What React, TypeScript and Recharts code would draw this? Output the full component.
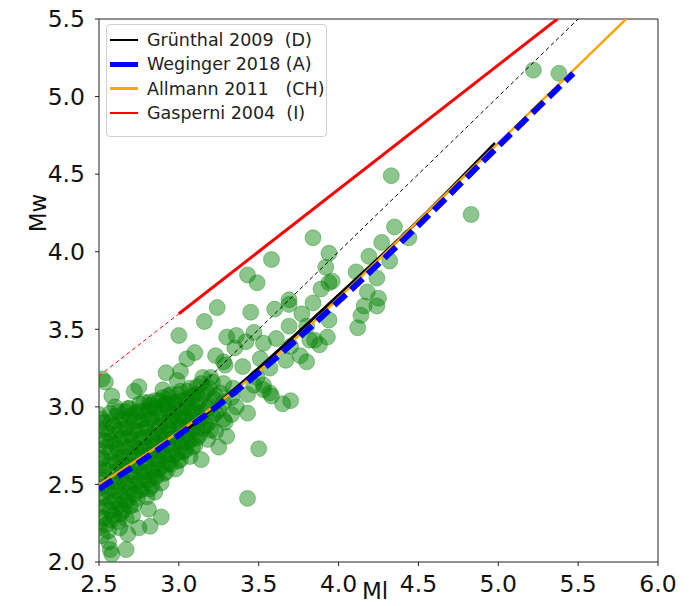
import React from 'react';
import * as R from 'recharts';
import { ComposedChart, Scatter, Line, XAxis, YAxis, ReferenceLine } from 'recharts';

// axis ticks
const xTicks = [2.5, 3.0, 3.5, 4.0, 4.5, 5.0, 5.5, 6.0];
const yTicks = [2.0, 2.5, 3.0, 3.5, 4.0, 4.5, 5.0, 5.5];

// relations (Ml -> Mw)
const oneToOne = [{ x: 2.5, y: 2.5 }, { x: 5.5, y: 5.5 }];
const gasperiniExtrap = [{ x: 2.5, y: 3.2 }, { x: 3.0, y: 3.6 }];
const gasperini = [{ x: 3.0, y: 3.6 }, { x: 5.37, y: 5.5 }];
const gruenthal = [
  { x: 3.0, y: 2.81 }, { x: 3.5, y: 3.25 }, { x: 4.0, y: 3.72 }, { x: 4.5, y: 4.2 }, { x: 4.98, y: 4.7 },
];
const allmann = [
  { x: 2.5, y: 2.5 }, { x: 3.0, y: 2.84 }, { x: 3.5, y: 3.23 }, { x: 4.0, y: 3.7 },
  { x: 4.5, y: 4.2 }, { x: 5.0, y: 4.7 }, { x: 5.5, y: 5.2 }, { x: 5.8, y: 5.5 },
];
const weginger = [
  { x: 2.5, y: 2.47 }, { x: 3.0, y: 2.82 }, { x: 3.5, y: 3.22 }, { x: 4.0, y: 3.68 },
  { x: 4.5, y: 4.17 }, { x: 5.0, y: 4.68 }, { x: 5.47, y: 5.15 },
];

// events [Ml, Mw]
const eventsSparse: number[][] = [
  [5.22, 5.17], [5.38, 5.15], [4.33, 4.49], [4.83, 4.24], [3.84, 4.09], [4.35, 4.16], [4.44, 4.09],
  [4.27, 4.06], [3.94, 3.99], [3.92, 3.9], [4.19, 3.97], [4.32, 3.94], [4.11, 3.87], [4.24, 3.83],
  [3.89, 3.76], [3.94, 3.8], [4.18, 3.74], [4.25, 3.7], [3.84, 3.67], [4.16, 3.65], [4.24, 3.65],
  [4.14, 3.59], [3.94, 3.56], [4.12, 3.51], [3.82, 3.43], [3.88, 3.4], [3.8, 3.52],
  [3.58, 3.95], [3.43, 3.85], [3.49, 3.8], [3.24, 3.64], [3.16, 3.55], [3.45, 3.61], [3.6, 3.63],
  [3.69, 3.69], [3.0, 3.46], [3.96, 3.81], [3.77, 3.6], [3.36, 3.46], [3.3, 3.45], [3.47, 3.48],
  [3.69, 3.52], [3.53, 3.41], [3.61, 3.44], [3.7, 3.39], [3.8, 3.29], [2.52, 3.18], [2.58, 3.07],
  [2.75, 3.13], [2.72, 3.1], [2.6, 3.0], [3.1, 3.35], [3.05, 3.31], [3.23, 3.33], [3.28, 3.29],
  [3.67, 3.3], [3.57, 3.25], [3.4, 3.26], [3.49, 3.19], [3.7, 3.04], [3.65, 3.02], [3.57, 3.09],
  [3.53, 3.14], [2.99, 3.17], [3.01, 3.23], [2.92, 3.22], [2.9, 3.11], [3.69, 3.66], [3.35, 3.38],
  [3.42, 3.42], [3.29, 3.27], [3.51, 3.31], [3.76, 3.33], [3.85, 3.43], [3.93, 3.45], [3.2, 3.19],
  [3.34, 3.12], [3.47, 3.14], [3.53, 3.11], [3.58, 3.07], [3.43, 3.08], [3.43, 2.96], [3.36, 3.0],
  [3.29, 2.9], [3.2, 2.85], [3.3, 2.81], [3.25, 2.74], [3.18, 2.79], [3.5, 2.73], [3.14, 2.66],
  [3.43, 2.41], [2.81, 2.34], [2.89, 2.29], [2.75, 2.22], [2.82, 2.23], [2.68, 2.18], [2.67, 2.08],
  [2.57, 2.08], [2.56, 2.13], [2.52, 2.17], [2.58, 2.05], [2.72, 2.37], [2.67, 2.28], [2.85, 2.45],
  [2.63, 2.22], [2.54, 3.16], [2.68, 2.99], [2.82, 3.01], [2.93, 3.01],
];

const eventsDense: number[][] = [
  [2.5, 2.22], [2.5, 2.35], [2.51, 2.48], [2.5, 2.6], [2.5, 2.72], [2.51, 2.85], [2.5, 2.95],
  [2.53, 2.28], [2.54, 2.42], [2.53, 2.55], [2.52, 2.67], [2.54, 2.78], [2.53, 2.9],
  [2.56, 2.2], [2.57, 2.33], [2.56, 2.46], [2.55, 2.59], [2.57, 2.71], [2.56, 2.83], [2.57, 2.96],
  [2.59, 2.3], [2.6, 2.4], [2.59, 2.52], [2.61, 2.64], [2.6, 2.76], [2.59, 2.88],
  [2.62, 2.26], [2.63, 2.37], [2.62, 2.49], [2.64, 2.61], [2.62, 2.73], [2.63, 2.85], [2.62, 2.97],
  [2.65, 2.33], [2.66, 2.45], [2.65, 2.56], [2.66, 2.68], [2.65, 2.8], [2.66, 2.92],
  [2.68, 2.4], [2.69, 2.51], [2.68, 2.63], [2.7, 2.75], [2.68, 2.87], [2.69, 2.99],
  [2.71, 2.3], [2.72, 2.44], [2.71, 2.56], [2.72, 2.68], [2.71, 2.79], [2.72, 2.91],
  [2.74, 2.41], [2.75, 2.52], [2.74, 2.62], [2.76, 2.73], [2.74, 2.85], [2.75, 2.97],
  [2.77, 2.47], [2.78, 2.58], [2.77, 2.69], [2.78, 2.8], [2.77, 2.92], [2.78, 3.03],
  [2.8, 2.42], [2.81, 2.53], [2.8, 2.64], [2.82, 2.75], [2.8, 2.87], [2.81, 2.98],
  [2.83, 2.49], [2.84, 2.6], [2.83, 2.71], [2.84, 2.82], [2.83, 2.93], [2.85, 3.04],
  [2.86, 2.55], [2.87, 2.66], [2.86, 2.77], [2.88, 2.88], [2.86, 2.99],
  [2.89, 2.51], [2.9, 2.62], [2.89, 2.73], [2.9, 2.84], [2.89, 2.95], [2.9, 3.06],
  [2.92, 2.58], [2.93, 2.69], [2.92, 2.8], [2.94, 2.91], [2.92, 3.02],
  [2.95, 2.63], [2.96, 2.74], [2.95, 2.85], [2.96, 2.96], [2.95, 3.08],
  [2.98, 2.6], [2.99, 2.7], [2.98, 2.81], [3.0, 2.92], [2.98, 3.03],
  [3.01, 2.66], [3.02, 2.77], [3.01, 2.88], [3.02, 2.99], [3.01, 3.1],
  [3.04, 2.72], [3.05, 2.83], [3.04, 2.94], [3.05, 3.05],
  [3.07, 2.68], [3.08, 2.79], [3.07, 2.9], [3.08, 3.01], [3.07, 3.12],
  [3.1, 2.75], [3.11, 2.86], [3.1, 2.97], [3.11, 3.08],
  [3.13, 2.82], [3.14, 2.93], [3.13, 3.04], [3.14, 3.15],
  [3.17, 2.88], [3.18, 2.99], [3.17, 3.1],
  [3.21, 2.94], [3.22, 3.05], [3.21, 3.16],
  [3.25, 2.98], [3.26, 3.09],
];

const eventsCore: number[][] = [
  [2.515, 2.29], [2.515, 2.41], [2.515, 2.53], [2.515, 2.66], [2.515, 2.79], [2.515, 2.92],
  [2.545, 2.24], [2.545, 2.36], [2.545, 2.49], [2.545, 2.62], [2.545, 2.74], [2.545, 2.86],
  [2.575, 2.27], [2.575, 2.39], [2.575, 2.52], [2.575, 2.65], [2.575, 2.78], [2.575, 2.9],
  [2.605, 2.34], [2.605, 2.46], [2.605, 2.58], [2.605, 2.7], [2.605, 2.82], [2.605, 2.94],
  [2.635, 2.31], [2.635, 2.43], [2.635, 2.55], [2.635, 2.67], [2.635, 2.79], [2.635, 2.91],
  [2.665, 2.39], [2.665, 2.5], [2.665, 2.62], [2.665, 2.74], [2.665, 2.86], [2.665, 2.97],
  [2.695, 2.36], [2.695, 2.47], [2.695, 2.58], [2.695, 2.7], [2.695, 2.82], [2.695, 2.94],
  [2.725, 2.5], [2.725, 2.62], [2.725, 2.74], [2.725, 2.85], [2.725, 2.96],
  [2.755, 2.46], [2.755, 2.57], [2.755, 2.68], [2.755, 2.79], [2.755, 2.91], [2.755, 3.02],
  [2.785, 2.53], [2.785, 2.64], [2.785, 2.75], [2.785, 2.86], [2.785, 2.97],
  [2.815, 2.47], [2.815, 2.58], [2.815, 2.69], [2.815, 2.81], [2.815, 2.92], [2.815, 3.03],
  [2.845, 2.55], [2.845, 2.66], [2.845, 2.77], [2.845, 2.88], [2.845, 2.99],
  [2.875, 2.6], [2.875, 2.71], [2.875, 2.82], [2.875, 2.93], [2.875, 3.04],
  [2.905, 2.57], [2.905, 2.68], [2.905, 2.79], [2.905, 2.9], [2.905, 3.01],
  [2.935, 2.64], [2.935, 2.75], [2.935, 2.86], [2.935, 2.97], [2.935, 3.07],
  [2.965, 2.69], [2.965, 2.8], [2.965, 2.91], [2.965, 3.02],
  [2.995, 2.65], [2.995, 2.76], [2.995, 2.87], [2.995, 2.98], [2.995, 3.08],
  [3.025, 2.71], [3.025, 2.82], [3.025, 2.93], [3.025, 3.04],
  [3.055, 2.77], [3.055, 2.88], [3.055, 2.99], [3.055, 3.1],
  [3.085, 2.74], [3.085, 2.85], [3.085, 2.96], [3.085, 3.07],
  [3.115, 2.8], [3.115, 2.91], [3.115, 3.02], [3.115, 3.13],
  [3.15, 2.86], [3.15, 2.97], [3.15, 3.08], [3.15, 3.19],
  [3.19, 2.9], [3.19, 3.01], [3.19, 3.12],
  [3.23, 2.84], [3.23, 2.96], [3.23, 3.07],
  [3.28, 2.92], [3.28, 3.03], [3.28, 3.15],
  [3.33, 2.95], [3.33, 3.06],
];

const events = [...eventsCore, ...eventsDense, ...eventsSparse].map(([x, y]) => ({ x, y }));

const legendItems = [
  { label: 'Grünthal 2009  (D)', color: '#000000', width: 2.5 },
  { label: 'Weginger 2018 (A)', color: '#0000ff', width: 5 },
  { label: 'Allmann 2011   (CH)', color: '#ffa500', width: 2.5 },
  { label: 'Gasperni 2004  (I)', color: '#ff0000', width: 2.5 },
];

const font = 'DejaVu Sans, sans-serif';
const tickStyle = { fill: '#111', fontSize: 23.5, fontFamily: font };
const W = 690;
const H = 606;

// clip the scatter to the plot area
const useArea = (R as any).usePlotArea || (R as any).useOffset || (() => null);
function PlotClip() {
  const a: any = useArea();
  const left = a?.x ?? a?.left ?? 99;
  const top = a?.y ?? a?.top ?? 19;
  const w = a?.width ?? 559;
  const h = a?.height ?? 543;
  return (
    <defs>
      <clipPath id="plot-clip">
        <rect x={left} y={top} width={w} height={h} />
      </clipPath>
    </defs>
  );
}

const Dot = (props: any) => {
  const { cx, cy } = props;
  if (cx == null || cy == null) return null;
  return (
    <circle
      cx={cx} cy={cy} r={8} clipPath="url(#plot-clip)"
      fill="#008000" fillOpacity={0.45} stroke="#008000" strokeOpacity={0.35} strokeWidth={1}
    />
  );
};

export default function App() {
  return (
    <div style={{ position: 'absolute', left: 0, top: 0, width: W, height: H, background: '#fff', fontFamily: font }}>
      {/* base: axes + scatter */}
      <div style={{ position: 'absolute', left: 0, top: 0 }}>
        <ComposedChart width={W} height={H} margin={{ top: 19, right: 32, bottom: 0, left: 0 }}>
          <PlotClip />
          <XAxis
            type="number"
            dataKey="x"
            domain={[2.5, 6.0]}
            ticks={xTicks}
            allowDataOverflow
            height={44}
            tickSize={4}
            tickMargin={9}
            stroke="#222"
            tick={tickStyle}
            tickFormatter={(v) => v.toFixed(1)}
          />
          <YAxis
            type="number"
            dataKey="y"
            domain={[2.0, 5.5]}
            ticks={yTicks}
            allowDataOverflow
            width={99}
            tickSize={4}
            tickMargin={10}
            stroke="#222"
            tick={tickStyle}
            tickFormatter={(v) => v.toFixed(1)}
          />
          <ReferenceLine y={5.5} stroke="#222" strokeWidth={1} />
          <ReferenceLine x={6.0} stroke="#222" strokeWidth={1} />
          <Scatter data={events} shape={<Dot />} isAnimationActive={false} />
        </ComposedChart>
      </div>

      {/* overlay: relations drawn above the events */}
      <div style={{ position: 'absolute', left: 0, top: 0 }}>
        <ComposedChart width={W} height={H} margin={{ top: 19, right: 32, bottom: 44, left: 99 }}>
          <XAxis type="number" dataKey="x" domain={[2.5, 6.0]} allowDataOverflow hide />
          <YAxis type="number" dataKey="y" domain={[2.0, 5.5]} allowDataOverflow hide />
          <Line data={oneToOne} dataKey="y" stroke="#000" strokeWidth={1} strokeDasharray="4 3" dot={false} isAnimationActive={false} />
          <Line data={gasperiniExtrap} dataKey="y" stroke="#ff0000" strokeWidth={1} strokeDasharray="4 3" dot={false} isAnimationActive={false} />
          <Line data={gasperini} dataKey="y" stroke="#ff0000" strokeWidth={3} dot={false} isAnimationActive={false} />
          <Line data={gruenthal} dataKey="y" type="monotone" stroke="#000" strokeWidth={3} dot={false} isAnimationActive={false} />
          <Line data={allmann} dataKey="y" type="monotone" stroke="#ffa500" strokeWidth={2.5} dot={false} isAnimationActive={false} />
          <Line data={weginger} dataKey="y" type="monotone" stroke="#0000ff" strokeWidth={6} strokeDasharray="16 7" dot={false} isAnimationActive={false} />
        </ComposedChart>
      </div>

      <div
        style={{
          position: 'absolute', left: 106, top: 24, width: 221, height: 113, boxSizing: 'border-box',
          border: '1px solid #d0d0d0', borderRadius: 4, background: 'rgba(255,255,255,0.85)',
        }}
      >
        {legendItems.map((it, i) => (
          <div key={it.label} style={{ position: 'absolute', left: 3, top: 4 + i * 24.3, height: 22, display: 'flex', alignItems: 'center' }}>
            <div style={{ width: 28, height: it.width, background: it.color }} />
            <span style={{ marginLeft: 9, fontSize: 17.5, color: '#222', whiteSpace: 'pre' }}>{it.label}</span>
          </div>
        ))}
      </div>

      <div style={{ position: 'absolute', left: 38, top: 213, transform: 'translate(-50%, -50%) rotate(-90deg)', fontSize: 23, color: '#111' }}>Mw</div>
      <div style={{ position: 'absolute', left: 375, top: 591, transform: 'translate(-50%, -50%)', fontSize: 23, lineHeight: '26px', color: '#111' }}>Ml</div>
    </div>
  );
}
